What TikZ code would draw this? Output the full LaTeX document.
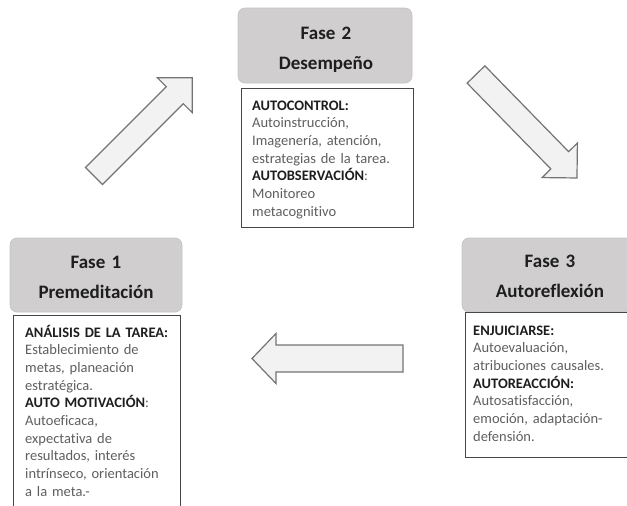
\documentclass[tikz,border=0pt]{standalone}
\usepackage{fontspec}
\setmainfont[Ligatures=NoCommon]{Carlito}
\usepackage{xcolor}
\usepackage{tikz}

\definecolor{headgray}{RGB}{208,206,206}
\definecolor{bodygray}{RGB}{95,95,95}
\definecolor{labelblack}{RGB}{30,30,30}
\definecolor{boxline}{RGB}{70,70,70}
\definecolor{arrowfill}{RGB}{242,242,242}
\definecolor{arrowline}{RGB}{115,115,115}
\newcommand{\phlabel}[1]{{\bfseries\color{labelblack}#1}}

\begin{document}
\begin{tikzpicture}[x=1pt,y=-1pt]
\tikzstyle{headbox}=[rectangle,rounded corners=7pt,fill=headgray,draw=headgray!85!gray,
                     line width=0.6pt,inner sep=0pt]
\tikzstyle{headtext}=[anchor=base,align=center,text width=170pt,inner sep=0pt,
                      text=labelblack,font=\fontsize{19}{30}\selectfont\bfseries]
\tikzstyle{bodybox}=[rectangle,anchor=north west,draw=boxline,fill=white,
                     line width=1.2pt,inner sep=0pt]
\tikzstyle{bodytext}=[anchor=base west,align=left,inner sep=0pt,text=bodygray,
                      font=\fontsize{14.5}{17.7}\selectfont]
\tikzstyle{bigarrow}=[fill=arrowfill,draw=arrowline,line width=1.2pt,line join=miter]

\clip (0,0) rectangle (627,506);

% --- Fase 2: Desempeño ---
\node[headbox,minimum width=174pt,minimum height=75pt] (deshead) at (325,45.5) {};
\node[headtext] (destitle) at (326,39) {Fase 2\\Desempeño};
\node[bodybox,minimum width=172pt,minimum height=139pt] (desbox) at (241,88) {};
\node[bodytext,text width=156pt] (destext) at (252,110) {
\phlabel{AUTOCONTROL:}\\
Autoinstrucción,\\
Imagenería, atención,\\
estrategias de la tarea.\\
\phlabel{AUTOBSERVACIÓN}:\\
Monitoreo\\
metacognitivo
};

% --- Fase 1: Premeditación ---
\node[headbox,minimum width=172pt,minimum height=74pt] (prehead) at (96,275) {};
\node[headtext] (pretitle) at (96,268) {Fase 1\\Premeditación};
\node[bodybox,minimum width=167pt,minimum height=220pt] (prebox) at (13,315) {};
\node[bodytext,text width=150pt] (pretext) at (25,337) {
\phlabel{ANÁLISIS DE LA TAREA:}\\
Establecimiento de\\
metas, planeación\\
estratégica.\\
\phlabel{AUTO MOTIVACIÓN}:\\
Autoeficaca,\\
expectativa de\\
resultados, interés\\
intrínseco, orientación\\
a la meta.-
};

% --- Fase 3: Autoreflexión ---
\node[headbox,minimum width=172pt,minimum height=74pt] (autohead) at (548,275) {};
\node[headtext] (autotitle) at (550,267) {Fase 3\\Autoreflexión};
\node[bodybox,minimum width=175pt,minimum height=145pt] (autobox) at (465,312) {};
\node[bodytext,text width=155pt] (autotext) at (473,335) {
\phlabel{ENJUICIARSE:}\\
Autoevaluación,\\
atribuciones causales.\\
\phlabel{AUTOREACCIÓN:}\\
Autosatisfacción,\\
emoción, adaptación-\\
defensión.
};

% --- Block arrows (cycle) ---
\draw[bigarrow,shift={(94,176)},rotate=45]
  (0,-12) -- (114.3,-12) -- (114.3,-24.7) -- (139,0) -- (114.3,24.7) -- (114.3,12) -- (0,12) -- cycle;
\draw[bigarrow,shift={(476,74.5)},rotate=-45.7]
  (0,-12.4) -- (119.9,-12.4) -- (119.9,-24.7) -- (144.6,0) -- (119.9,24.7) -- (119.9,12.4) -- (0,12.4) -- cycle;
\draw[bigarrow,shift={(403,358.5)},rotate=180]
  (0,-13.5) -- (127,-13.5) -- (127,-25) -- (151,0) -- (127,25) -- (127,13.5) -- (0,13.5) -- cycle;

\end{tikzpicture}
\end{document}
